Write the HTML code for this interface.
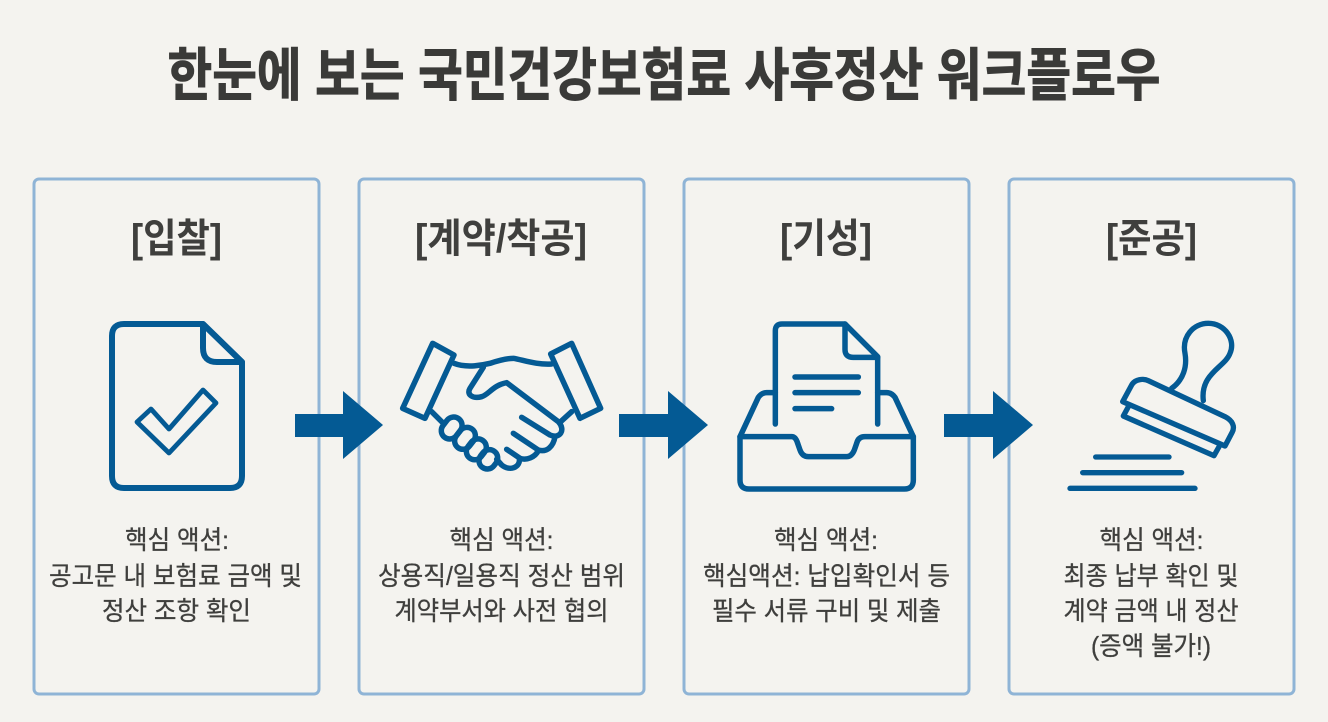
<!DOCTYPE html>
<html lang="ko"><head><meta charset="utf-8"><style>
html,body{margin:0;padding:0;background:#f4f3ef}
svg{display:block}
text{font-family:"Liberation Sans","Noto Sans CJK KR",sans-serif;text-anchor:middle}
.t{font-weight:700;font-size:57px;fill:#3a3a38;stroke:#3a3a38;stroke-width:1px}
.h{font-weight:700;font-size:40px;fill:#3f3f3d}
.b{font-weight:400;font-size:26px;fill:#3f3f3d;stroke:#3f3f3d;stroke-width:.3px}
.box{fill:none;stroke:#8fb4d6;stroke-width:3}
.i{fill:none;stroke:#045a94;stroke-linecap:round;stroke-linejoin:round}
.a{fill:#045a94}
</style></head><body>
<svg width="1328" height="722" viewBox="0 0 1328 722" xmlns="http://www.w3.org/2000/svg">
<rect width="1328" height="722" fill="#f4f3ef"/>
<text class="t" x="664" y="95" textLength="993" lengthAdjust="spacingAndGlyphs">한눈에 보는 국민건강보험료 사후정산 워크플로우</text>

<rect class="box" x="34" y="179" width="285" height="515" rx="5"/>
<rect class="box" x="359" y="179" width="285" height="515" rx="5"/>
<rect class="box" x="684" y="179" width="285" height="515" rx="5"/>
<rect class="box" x="1009" y="179" width="285" height="515" rx="5"/>

<text class="h" x="176.500" y="252" textLength="91" lengthAdjust="spacingAndGlyphs">[입찰]</text>
<text class="h" x="501" y="252" textLength="172" lengthAdjust="spacingAndGlyphs">[계약/착공]</text>
<text class="h" x="826" y="252" textLength="92" lengthAdjust="spacingAndGlyphs">[기성]</text>
<text class="h" x="1151.500" y="252" textLength="91" lengthAdjust="spacingAndGlyphs">[준공]</text>

<!-- document -->
<g class="i" stroke-width="6">
<path d="M203 324H124Q112 324 112 336V476Q112 488 124 488H230Q242 488 242 476V362Z"/>
<path d="M203 324L242 362H217Q203 362 203 348Z"/>
<path stroke-width="4.800" d="M137 422L151 409L169 429L203 390L216 403L169 453Z"/>
</g>

<!-- handshake -->
<g class="i" stroke-width="16.500" transform="translate(390 330) scale(.33333)">
<path d="M128 40L192 75L105 265L38 235Z"/>
<path d="M545 40L482 72L570 265L632 235Z"/>
<path d="M192 100C230 115 280 105 300 100C330 90 350 85 370 85C400 90 440 105 485 102"/>
<path d="M280 112L240 175C228 195 250 207 275 200C295 195 310 165 350 158L505 275C528 300 510 328 480 315L395 262"/>
<path d="M495 320C490 350 470 368 445 360L370 310"/>
<path d="M445 362C435 382 410 392 390 385L350 358"/>
<path d="M388 385C392 412 360 425 335 405L320 388"/>
<path d="M125 245L160 280M545 245L512 275"/>
<rect x="150" y="269" width="70" height="50" rx="25" transform="rotate(-52 185 294)"/>
<rect x="190" y="300" width="70" height="50" rx="25" transform="rotate(-52 225 325)"/>
<rect x="226" y="333" width="66" height="50" rx="25" transform="rotate(-52 259 358)"/>
<rect x="265" y="363" width="60" height="50" rx="25" transform="rotate(-52 295 388)"/>
</g>

<!-- inbox -->
<g class="i" stroke-width="16.500" transform="translate(725 310) scale(.33333)">
<path d="M151 342V62Q151 42 171 42H360L458 140V342"/>
<path d="M360 42V118Q360 142 385 142H458"/>
<path d="M210 201H400M210 248H400M210 296H320"/>
<path d="M151 248H125Q110 248 100 262L45 380M458 248H485Q500 248 510 262L565 380"/>
<path d="M45 380H200Q212 380 218 400L225 420Q232 440 250 440H365Q380 440 388 420L395 400Q400 380 420 380H565V510Q565 537 538 537H72Q45 537 45 510Z"/>
</g>

<!-- stamp -->
<g class="i" stroke-width="16" transform="translate(1050 310) scale(.33333)">
<path d="M365 235C400 210 412 170 405 130C395 80 430 40 475 40C525 40 558 90 540 130C525 172 450 190 460 272"/>
<path d="M218 275L245 225C255 207 280 205 295 212L525 320C548 332 556 350 546 368L525 408Z"/>
<path d="M234 292L220 318L492 437L510 405"/>
<path d="M137 441H357M98 488H395M60 535H435"/>
</g>

<!-- arrows -->
<path class="a" d="M295 414H343V391L383 425L343 459V437H295Z"/>
<path class="a" d="M619 414H668V391L708 425L668 459V437H619Z"/>
<path class="a" d="M944 414H993V391L1033 425L993 459V437H944Z"/>

<!-- body text -->
<text class="b" x="177" y="549" textLength="104" lengthAdjust="spacingAndGlyphs">핵심 액션:</text>
<text class="b" x="175.500" y="585" textLength="253" lengthAdjust="spacingAndGlyphs">공고문 내 보험료 금액 및</text>
<text class="b" x="176.500" y="620" textLength="149" lengthAdjust="spacingAndGlyphs">정산 조항 확인</text>

<text class="b" x="501.500" y="549" textLength="104" lengthAdjust="spacingAndGlyphs">핵심 액션:</text>
<text class="b" x="501.500" y="585" textLength="247" lengthAdjust="spacingAndGlyphs">상용직/일용직 정산 범위</text>
<text class="b" x="501.500" y="620" textLength="214" lengthAdjust="spacingAndGlyphs">계약부서와 사전 협의</text>

<text class="b" x="826" y="549" textLength="104" lengthAdjust="spacingAndGlyphs">핵심 액션:</text>
<text class="b" x="826.500" y="585" textLength="247" lengthAdjust="spacingAndGlyphs">핵심액션: 납입확인서 등</text>
<text class="b" x="826.500" y="620" textLength="229" lengthAdjust="spacingAndGlyphs">필수 서류 구비 및 제출</text>

<text class="b" x="1151.500" y="549" textLength="104" lengthAdjust="spacingAndGlyphs">핵심 액션:</text>
<text class="b" x="1151" y="585" textLength="175" lengthAdjust="spacingAndGlyphs">최종 납부 확인 및</text>
<text class="b" x="1151" y="620" textLength="175" lengthAdjust="spacingAndGlyphs">계약 금액 내 정산</text>
<text class="b" x="1151" y="655" textLength="120" lengthAdjust="spacingAndGlyphs">(증액 불가!)</text>
</svg>
</body></html>
